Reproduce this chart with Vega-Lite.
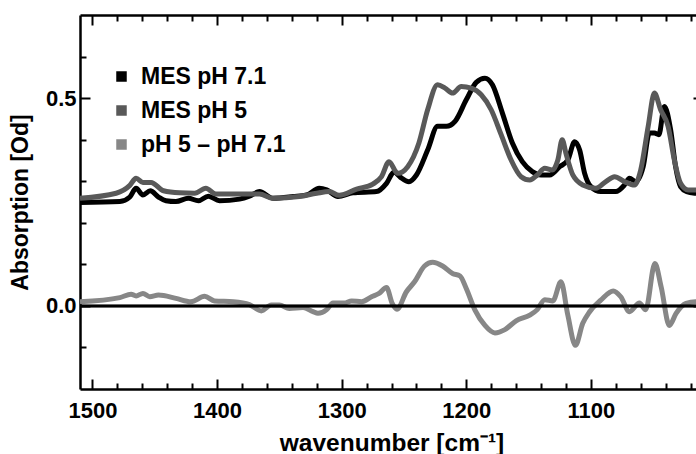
{
  "$schema": "https://vega.github.io/schema/vega-lite/v6.json",
  "width": 623,
  "height": 374,
  "autosize": {"type": "none"},
  "padding": {"left": 80, "top": 15, "right": -7, "bottom": 65},
  "background": "white",
  "datasets": {
    "spectra": [
      {"s": "MES pH 7.1", "w": 1510, "a": 0.249},
      {"s": "MES pH 7.1", "w": 1478, "a": 0.251},
      {"s": "MES pH 7.1", "w": 1470, "a": 0.262},
      {"s": "MES pH 7.1", "w": 1465, "a": 0.283},
      {"s": "MES pH 7.1", "w": 1459.5, "a": 0.267},
      {"s": "MES pH 7.1", "w": 1453.6, "a": 0.277},
      {"s": "MES pH 7.1", "w": 1447, "a": 0.262},
      {"s": "MES pH 7.1", "w": 1441, "a": 0.253},
      {"s": "MES pH 7.1", "w": 1433, "a": 0.251},
      {"s": "MES pH 7.1", "w": 1423, "a": 0.259},
      {"s": "MES pH 7.1", "w": 1415, "a": 0.253},
      {"s": "MES pH 7.1", "w": 1407, "a": 0.264},
      {"s": "MES pH 7.1", "w": 1398, "a": 0.253},
      {"s": "MES pH 7.1", "w": 1382, "a": 0.257},
      {"s": "MES pH 7.1", "w": 1374, "a": 0.264},
      {"s": "MES pH 7.1", "w": 1366, "a": 0.275},
      {"s": "MES pH 7.1", "w": 1355, "a": 0.259},
      {"s": "MES pH 7.1", "w": 1339, "a": 0.263},
      {"s": "MES pH 7.1", "w": 1328, "a": 0.267},
      {"s": "MES pH 7.1", "w": 1318, "a": 0.283},
      {"s": "MES pH 7.1", "w": 1312, "a": 0.279},
      {"s": "MES pH 7.1", "w": 1303, "a": 0.263},
      {"s": "MES pH 7.1", "w": 1291, "a": 0.272},
      {"s": "MES pH 7.1", "w": 1272, "a": 0.275},
      {"s": "MES pH 7.1", "w": 1264, "a": 0.295},
      {"s": "MES pH 7.1", "w": 1258, "a": 0.322},
      {"s": "MES pH 7.1", "w": 1253, "a": 0.31},
      {"s": "MES pH 7.1", "w": 1246, "a": 0.299},
      {"s": "MES pH 7.1", "w": 1240, "a": 0.315},
      {"s": "MES pH 7.1", "w": 1231, "a": 0.375},
      {"s": "MES pH 7.1", "w": 1223, "a": 0.432},
      {"s": "MES pH 7.1", "w": 1216, "a": 0.432},
      {"s": "MES pH 7.1", "w": 1209, "a": 0.444},
      {"s": "MES pH 7.1", "w": 1200, "a": 0.496},
      {"s": "MES pH 7.1", "w": 1192, "a": 0.538},
      {"s": "MES pH 7.1", "w": 1185, "a": 0.548},
      {"s": "MES pH 7.1", "w": 1179, "a": 0.532},
      {"s": "MES pH 7.1", "w": 1171, "a": 0.464},
      {"s": "MES pH 7.1", "w": 1163, "a": 0.392},
      {"s": "MES pH 7.1", "w": 1155, "a": 0.347},
      {"s": "MES pH 7.1", "w": 1147, "a": 0.323},
      {"s": "MES pH 7.1", "w": 1140, "a": 0.315},
      {"s": "MES pH 7.1", "w": 1133, "a": 0.315},
      {"s": "MES pH 7.1", "w": 1125, "a": 0.335},
      {"s": "MES pH 7.1", "w": 1118.5, "a": 0.351},
      {"s": "MES pH 7.1", "w": 1113, "a": 0.395},
      {"s": "MES pH 7.1", "w": 1109, "a": 0.375},
      {"s": "MES pH 7.1", "w": 1105, "a": 0.319},
      {"s": "MES pH 7.1", "w": 1100, "a": 0.287},
      {"s": "MES pH 7.1", "w": 1092, "a": 0.275},
      {"s": "MES pH 7.1", "w": 1080, "a": 0.275},
      {"s": "MES pH 7.1", "w": 1073, "a": 0.291},
      {"s": "MES pH 7.1", "w": 1069, "a": 0.307},
      {"s": "MES pH 7.1", "w": 1064, "a": 0.299},
      {"s": "MES pH 7.1", "w": 1058, "a": 0.335},
      {"s": "MES pH 7.1", "w": 1053, "a": 0.416},
      {"s": "MES pH 7.1", "w": 1049, "a": 0.416},
      {"s": "MES pH 7.1", "w": 1045.4, "a": 0.412},
      {"s": "MES pH 7.1", "w": 1041, "a": 0.48},
      {"s": "MES pH 7.1", "w": 1036, "a": 0.424},
      {"s": "MES pH 7.1", "w": 1032, "a": 0.335},
      {"s": "MES pH 7.1", "w": 1028, "a": 0.287},
      {"s": "MES pH 7.1", "w": 1023, "a": 0.275},
      {"s": "MES pH 7.1", "w": 1016, "a": 0.271},
      {"s": "MES pH 7.1", "w": 1010, "a": 0.27},

      {"s": "MES pH 5", "w": 1510, "a": 0.259},
      {"s": "MES pH 5", "w": 1481, "a": 0.271},
      {"s": "MES pH 5", "w": 1470, "a": 0.29},
      {"s": "MES pH 5", "w": 1465, "a": 0.307},
      {"s": "MES pH 5", "w": 1459.5, "a": 0.297},
      {"s": "MES pH 5", "w": 1453, "a": 0.297},
      {"s": "MES pH 5", "w": 1443, "a": 0.277},
      {"s": "MES pH 5", "w": 1430, "a": 0.272},
      {"s": "MES pH 5", "w": 1418, "a": 0.271},
      {"s": "MES pH 5", "w": 1409, "a": 0.283},
      {"s": "MES pH 5", "w": 1401, "a": 0.269},
      {"s": "MES pH 5", "w": 1382, "a": 0.269},
      {"s": "MES pH 5", "w": 1366, "a": 0.269},
      {"s": "MES pH 5", "w": 1355, "a": 0.259},
      {"s": "MES pH 5", "w": 1334, "a": 0.263},
      {"s": "MES pH 5", "w": 1320, "a": 0.271},
      {"s": "MES pH 5", "w": 1310, "a": 0.275},
      {"s": "MES pH 5", "w": 1302, "a": 0.266},
      {"s": "MES pH 5", "w": 1288, "a": 0.281},
      {"s": "MES pH 5", "w": 1275, "a": 0.293},
      {"s": "MES pH 5", "w": 1268, "a": 0.311},
      {"s": "MES pH 5", "w": 1262, "a": 0.347},
      {"s": "MES pH 5", "w": 1255, "a": 0.319},
      {"s": "MES pH 5", "w": 1247, "a": 0.335},
      {"s": "MES pH 5", "w": 1238, "a": 0.392},
      {"s": "MES pH 5", "w": 1231, "a": 0.472},
      {"s": "MES pH 5", "w": 1223, "a": 0.532},
      {"s": "MES pH 5", "w": 1217, "a": 0.524},
      {"s": "MES pH 5", "w": 1211, "a": 0.512},
      {"s": "MES pH 5", "w": 1204, "a": 0.528},
      {"s": "MES pH 5", "w": 1196, "a": 0.524},
      {"s": "MES pH 5", "w": 1188, "a": 0.508},
      {"s": "MES pH 5", "w": 1180, "a": 0.472},
      {"s": "MES pH 5", "w": 1172, "a": 0.412},
      {"s": "MES pH 5", "w": 1164, "a": 0.351},
      {"s": "MES pH 5", "w": 1156, "a": 0.311},
      {"s": "MES pH 5", "w": 1149, "a": 0.303},
      {"s": "MES pH 5", "w": 1143, "a": 0.315},
      {"s": "MES pH 5", "w": 1137, "a": 0.331},
      {"s": "MES pH 5", "w": 1131, "a": 0.327},
      {"s": "MES pH 5", "w": 1126.5, "a": 0.351},
      {"s": "MES pH 5", "w": 1123, "a": 0.4},
      {"s": "MES pH 5", "w": 1120, "a": 0.367},
      {"s": "MES pH 5", "w": 1114.5, "a": 0.315},
      {"s": "MES pH 5", "w": 1106.5, "a": 0.291},
      {"s": "MES pH 5", "w": 1096, "a": 0.283},
      {"s": "MES pH 5", "w": 1088, "a": 0.299},
      {"s": "MES pH 5", "w": 1081, "a": 0.311},
      {"s": "MES pH 5", "w": 1073, "a": 0.299},
      {"s": "MES pH 5", "w": 1065, "a": 0.291},
      {"s": "MES pH 5", "w": 1060, "a": 0.327},
      {"s": "MES pH 5", "w": 1054, "a": 0.432},
      {"s": "MES pH 5", "w": 1049, "a": 0.512},
      {"s": "MES pH 5", "w": 1044, "a": 0.472},
      {"s": "MES pH 5", "w": 1038, "a": 0.432},
      {"s": "MES pH 5", "w": 1033, "a": 0.351},
      {"s": "MES pH 5", "w": 1028, "a": 0.295},
      {"s": "MES pH 5", "w": 1022, "a": 0.279},
      {"s": "MES pH 5", "w": 1016, "a": 0.279},
      {"s": "MES pH 5", "w": 1010, "a": 0.278},

      {"s": "pH 5 – pH 7.1", "w": 1510, "a": 0.01},
      {"s": "pH 5 – pH 7.1", "w": 1478, "a": 0.02},
      {"s": "pH 5 – pH 7.1", "w": 1469, "a": 0.028},
      {"s": "pH 5 – pH 7.1", "w": 1465, "a": 0.024},
      {"s": "pH 5 – pH 7.1", "w": 1459.5, "a": 0.03},
      {"s": "pH 5 – pH 7.1", "w": 1454, "a": 0.022},
      {"s": "pH 5 – pH 7.1", "w": 1447, "a": 0.026},
      {"s": "pH 5 – pH 7.1", "w": 1433, "a": 0.018},
      {"s": "pH 5 – pH 7.1", "w": 1421, "a": 0.01},
      {"s": "pH 5 – pH 7.1", "w": 1410, "a": 0.023},
      {"s": "pH 5 – pH 7.1", "w": 1402, "a": 0.012},
      {"s": "pH 5 – pH 7.1", "w": 1387, "a": 0.01},
      {"s": "pH 5 – pH 7.1", "w": 1374, "a": 0.003},
      {"s": "pH 5 – pH 7.1", "w": 1364.5, "a": -0.012},
      {"s": "pH 5 – pH 7.1", "w": 1356.5, "a": 0.002},
      {"s": "pH 5 – pH 7.1", "w": 1350, "a": 0.002},
      {"s": "pH 5 – pH 7.1", "w": 1342, "a": -0.006},
      {"s": "pH 5 – pH 7.1", "w": 1331, "a": -0.004},
      {"s": "pH 5 – pH 7.1", "w": 1323, "a": -0.014},
      {"s": "pH 5 – pH 7.1", "w": 1319, "a": -0.018},
      {"s": "pH 5 – pH 7.1", "w": 1312, "a": -0.009},
      {"s": "pH 5 – pH 7.1", "w": 1307, "a": 0.007},
      {"s": "pH 5 – pH 7.1", "w": 1298, "a": 0.007},
      {"s": "pH 5 – pH 7.1", "w": 1292, "a": 0.012},
      {"s": "pH 5 – pH 7.1", "w": 1284, "a": 0.01},
      {"s": "pH 5 – pH 7.1", "w": 1276, "a": 0.022},
      {"s": "pH 5 – pH 7.1", "w": 1270, "a": 0.03},
      {"s": "pH 5 – pH 7.1", "w": 1264, "a": 0.044},
      {"s": "pH 5 – pH 7.1", "w": 1259.4, "a": 0.006},
      {"s": "pH 5 – pH 7.1", "w": 1255.7, "a": -0.008},
      {"s": "pH 5 – pH 7.1", "w": 1248, "a": 0.034},
      {"s": "pH 5 – pH 7.1", "w": 1241.5, "a": 0.058},
      {"s": "pH 5 – pH 7.1", "w": 1233.5, "a": 0.096},
      {"s": "pH 5 – pH 7.1", "w": 1227, "a": 0.105},
      {"s": "pH 5 – pH 7.1", "w": 1219, "a": 0.096},
      {"s": "pH 5 – pH 7.1", "w": 1211, "a": 0.078},
      {"s": "pH 5 – pH 7.1", "w": 1205, "a": 0.072},
      {"s": "pH 5 – pH 7.1", "w": 1200, "a": 0.042},
      {"s": "pH 5 – pH 7.1", "w": 1193, "a": -0.01},
      {"s": "pH 5 – pH 7.1", "w": 1185, "a": -0.047},
      {"s": "pH 5 – pH 7.1", "w": 1177, "a": -0.065},
      {"s": "pH 5 – pH 7.1", "w": 1169, "a": -0.057},
      {"s": "pH 5 – pH 7.1", "w": 1160, "a": -0.036},
      {"s": "pH 5 – pH 7.1", "w": 1149, "a": -0.022},
      {"s": "pH 5 – pH 7.1", "w": 1143, "a": -0.009},
      {"s": "pH 5 – pH 7.1", "w": 1137, "a": 0.015},
      {"s": "pH 5 – pH 7.1", "w": 1130.5, "a": 0.012},
      {"s": "pH 5 – pH 7.1", "w": 1124, "a": 0.058},
      {"s": "pH 5 – pH 7.1", "w": 1118.5, "a": -0.022},
      {"s": "pH 5 – pH 7.1", "w": 1112.4, "a": -0.095},
      {"s": "pH 5 – pH 7.1", "w": 1106.5, "a": -0.042},
      {"s": "pH 5 – pH 7.1", "w": 1101, "a": -0.014},
      {"s": "pH 5 – pH 7.1", "w": 1092, "a": 0.014},
      {"s": "pH 5 – pH 7.1", "w": 1082, "a": 0.036},
      {"s": "pH 5 – pH 7.1", "w": 1076, "a": 0.022},
      {"s": "pH 5 – pH 7.1", "w": 1069, "a": -0.014},
      {"s": "pH 5 – pH 7.1", "w": 1061, "a": 0.007},
      {"s": "pH 5 – pH 7.1", "w": 1056, "a": -0.009},
      {"s": "pH 5 – pH 7.1", "w": 1048.6, "a": 0.102},
      {"s": "pH 5 – pH 7.1", "w": 1043.6, "a": 0.046},
      {"s": "pH 5 – pH 7.1", "w": 1037, "a": -0.047},
      {"s": "pH 5 – pH 7.1", "w": 1031.6, "a": -0.018},
      {"s": "pH 5 – pH 7.1", "w": 1023.6, "a": 0.006},
      {"s": "pH 5 – pH 7.1", "w": 1016, "a": 0.01},
      {"s": "pH 5 – pH 7.1", "w": 1010, "a": 0.01}
    ],
    "one": [{}]
  },
  "config": {
    "view": {"stroke": null},
    "axis": {
      "grid": false,
      "domainColor": "#000000",
      "domainWidth": 2.5,
      "tickColor": "#000000",
      "tickWidth": 2,
      "labelFont": "Liberation Sans",
      "labelFontWeight": "bold",
      "labelFontSize": 22,
      "labelColor": "#000000",
      "labelFlush": false,
      "titleFont": "Liberation Sans",
      "titleFontWeight": "bold",
      "titleFontSize": 23,
      "titleColor": "#000000"
    },
    "legend": {
      "labelFont": "Liberation Sans",
      "labelFontWeight": "bold",
      "labelFontSize": 23,
      "labelColor": "#000000"
    }
  },
  "layer": [
    {
      "data": {"name": "spectra"},
      "mark": {"type": "line", "strokeWidth": 5, "interpolate": "monotone"},
      "encoding": {
        "x": {
          "field": "w", "type": "quantitative",
          "scale": {"domain": [1010, 1510], "reverse": true, "nice": false, "zero": false},
          "axis": {"orient": "bottom", "values": [1100, 1200, 1300, 1400, 1500], "tickSize": -10, "labelPadding": 21, "format": "d", "title": "wavenumber [cm⁻¹]", "titleFontSize": 24.5, "titlePadding": 10}
        },
        "y": {
          "field": "a", "type": "quantitative",
          "scale": {"domain": [-0.2, 0.7], "nice": false, "zero": false},
          "axis": {"orient": "left", "values": [0, 0.5], "tickSize": -10, "labelPadding": 14, "format": ".1f", "title": "Absorption [Od]", "titlePadding": 13}
        },
        "color": {
          "field": "s", "type": "nominal",
          "scale": {"domain": ["MES pH 7.1", "MES pH 5", "pH 5 – pH 7.1"], "range": ["#000000", "#595959", "#878787"]},
          "legend": {
            "title": null, "orient": "none", "legendX": 30, "legendY": 50,
            "symbolType": "square", "symbolSize": 25, "symbolStrokeWidth": 5.5,
            "labelOffset": 8, "rowPadding": 7, "padding": 0
          }
        }
      }
    },
    {
      "data": {"name": "one"},
      "mark": {"type": "rule", "color": "#000000", "strokeWidth": 2.5},
      "encoding": {
        "x": {
          "datum": 1510, "type": "quantitative",
          "scale": {"domain": [1010, 1510], "reverse": true, "nice": false, "zero": false},
          "axis": {"orient": "bottom", "values": [1020, 1040, 1060, 1080, 1120, 1140, 1160, 1180, 1220, 1240, 1260, 1280, 1320, 1340, 1360, 1380, 1420, 1440, 1460, 1480], "tickSize": -6, "labels": false, "domain": false, "title": null}
        },
        "x2": {"datum": 1010},
        "y": {
          "datum": 0, "type": "quantitative",
          "scale": {"domain": [-0.2, 0.7], "nice": false, "zero": false},
          "axis": {"orient": "left", "values": [-0.1, 0.1, 0.2, 0.3, 0.4, 0.6], "tickSize": -6, "labels": false, "domain": false, "title": null}
        }
      }
    },
    {
      "data": {"name": "one"},
      "mark": {"type": "rule", "color": "#000000", "strokeWidth": 2.5},
      "encoding": {
        "x": {
          "datum": 1510, "type": "quantitative",
          "scale": {"domain": [1010, 1510], "reverse": true, "nice": false, "zero": false},
          "axis": {"orient": "top", "values": [1100, 1200, 1300, 1400, 1500], "tickSize": -10, "labels": false, "title": null}
        },
        "x2": {"datum": 1010},
        "y": {
          "datum": 0, "type": "quantitative",
          "scale": {"domain": [-0.2, 0.7], "nice": false, "zero": false},
          "axis": {"orient": "right", "values": [0, 0.5], "tickSize": -10, "labels": false, "title": null}
        }
      }
    },
    {
      "data": {"name": "one"},
      "mark": {"type": "rule", "color": "#000000", "strokeWidth": 2.5},
      "encoding": {
        "x": {
          "datum": 1510, "type": "quantitative",
          "scale": {"domain": [1010, 1510], "reverse": true, "nice": false, "zero": false},
          "axis": {"orient": "top", "values": [1020, 1040, 1060, 1080, 1120, 1140, 1160, 1180, 1220, 1240, 1260, 1280, 1320, 1340, 1360, 1380, 1420, 1440, 1460, 1480], "tickSize": -6, "labels": false, "domain": false, "title": null}
        },
        "x2": {"datum": 1010},
        "y": {
          "datum": 0, "type": "quantitative",
          "scale": {"domain": [-0.2, 0.7], "nice": false, "zero": false},
          "axis": {"orient": "right", "values": [-0.1, 0.1, 0.2, 0.3, 0.4, 0.6], "tickSize": -6, "labels": false, "domain": false, "title": null}
        }
      }
    }
  ],
  "resolve": {"axis": {"x": "independent", "y": "independent"}}
}
